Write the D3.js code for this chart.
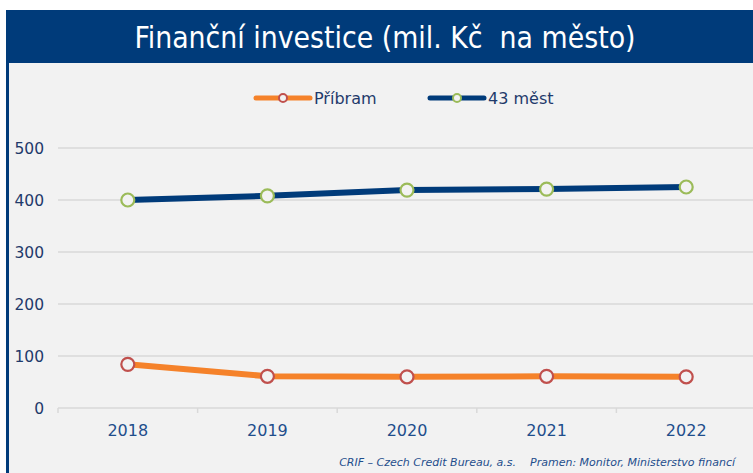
<!DOCTYPE html>
<html>
<head>
<meta charset="utf-8">
<script src="https://cdn.jsdelivr.net/npm/d3@7"></script>
<style>
  html, body { margin: 0; padding: 0; background: #ffffff; }
  svg { display: block; }
</style>
</head>
<body>
<svg id="chart" width="753" height="473"></svg>
<script>
// Finanční investice, mil. Kč na město
const years = ["2018", "2019", "2020", "2021", "2022"];
const pribram = [84, 61, 60, 61, 60];
const mest43 = [400, 408, 419, 421, 425];
const yTicks = [0, 100, 200, 300, 400, 500];
const seriesNames = ["Příbram", "43 měst"];

const titleText = "Finanční investice (mil. Kč\u00A0 na město)";
const footerText = "CRIF – Czech Credit Bureau, a.s.\u00A0\u00A0\u00A0 Pramen: Monitor, Ministerstvo financí";

const svg = d3.select("#chart");
const W = 753, H = 473;

const navy = "#003B7A";
const orange = "#F5822A";
const textBlue = "#1F3A6B";
const font = "'DejaVu Sans', Verdana, sans-serif";

// panel background and frame
svg.append("rect").attr("x", 6).attr("y", 10).attr("width", W - 6).attr("height", H - 10)
  .attr("fill", "#F2F2F2");
svg.append("rect").attr("x", 6).attr("y", 10).attr("width", W - 6).attr("height", 53)
  .attr("fill", navy);
svg.append("rect").attr("x", 6).attr("y", 10).attr("width", 3).attr("height", H - 10)
  .attr("fill", navy);

svg.append("text")
  .attr("x", 385).attr("y", 48)
  .attr("text-anchor", "middle")
  .attr("fill", "#ffffff")
  .attr("font-family", "'DejaVu Sans Condensed', 'DejaVu Sans', sans-serif")
  .attr("font-stretch", "condensed")
  .attr("font-size", 29.8)
  .text(titleText);

// scales
const x = d3.scaleBand().domain(years).range([58, 756]);
const y = d3.scaleLinear().domain([0, 500]).range([408, 148]);
const cx = d => x(d) + x.bandwidth() / 2;

// gridlines
svg.append("g").selectAll("line").data(yTicks.filter(t => t > 0)).join("line")
  .attr("x1", 58).attr("x2", W)
  .attr("y1", d => y(d)).attr("y2", d => y(d))
  .attr("stroke", "#D9D9D9").attr("stroke-width", 1.5);

// y axis labels
const yAxis = svg.append("g").attr("transform", "translate(44,0)")
  .call(d3.axisLeft(y).tickValues(yTicks).tickSize(0).tickPadding(0));
yAxis.select(".domain").remove();
yAxis.selectAll("text")
  .attr("fill", textBlue)
  .attr("font-family", font)
  .attr("font-size", 15.5)
  .attr("dy", "0.35em");

// x axis
const xAxis = svg.append("g").attr("transform", "translate(0,408)")
  .call(d3.axisBottom(x).tickSize(0).tickPadding(17));
xAxis.select(".domain").attr("stroke", "#D9D9D9").attr("stroke-width", 1.5)
  .attr("d", `M58,0H${W}`);
xAxis.selectAll("text")
  .attr("fill", "#1F4E8C")
  .attr("font-family", font)
  .attr("font-size", 16);
// category separators
svg.append("g").selectAll("line").data(years).join("line")
  .attr("x1", d => x(d)).attr("x2", d => x(d))
  .attr("y1", 408).attr("y2", 413)
  .attr("stroke", "#D9D9D9").attr("stroke-width", 1.5);

// series
const series = [
  { name: seriesNames[0], values: pribram, line: orange, width: 6, mark: "#C0504D" },
  { name: seriesNames[1], values: mest43, line: navy, width: 6, mark: "#9BBB59" }
];

const lineGen = d3.line().x((d, i) => cx(years[i])).y(d => y(d));

series.forEach(s => {
  svg.append("path").datum(s.values)
    .attr("d", lineGen)
    .attr("fill", "none")
    .attr("stroke", s.line)
    .attr("stroke-width", s.width)
    .attr("stroke-linejoin", "round");
  svg.append("g").selectAll("circle").data(s.values).join("circle")
    .attr("cx", (d, i) => cx(years[i]))
    .attr("cy", d => y(d))
    .attr("r", 6.5)
    .attr("fill", "#F2F2F2")
    .attr("stroke", s.mark)
    .attr("stroke-width", 2.2);
});

// legend
const legendItems = [
  { s: series[0], x0: 256 },
  { s: series[1], x0: 430 }
];
legendItems.forEach(({ s, x0 }) => {
  const g = svg.append("g").attr("transform", `translate(${x0},98)`);
  g.append("line").attr("x1", 0).attr("x2", 54).attr("y1", 0).attr("y2", 0)
    .attr("stroke", s.line).attr("stroke-width", 5).attr("stroke-linecap", "round");
  g.append("circle").attr("cx", 27).attr("cy", 0).attr("r", 4)
    .attr("fill", "#F2F2F2").attr("stroke", s.mark).attr("stroke-width", 2);
  g.append("text").attr("x", 58).attr("y", 0).attr("dy", "0.35em")
    .attr("fill", textBlue)
    .attr("font-family", font)
    .attr("font-size", 16)
    .text(s.name);
});

// source note
svg.append("text")
  .attr("x", 735).attr("y", 466)
  .attr("text-anchor", "end")
  .attr("fill", "#1F4E8C")
  .attr("font-family", font)
  .attr("font-style", "italic")
  .attr("font-size", 11)
  .text(footerText);
</script>
</body>
</html>
